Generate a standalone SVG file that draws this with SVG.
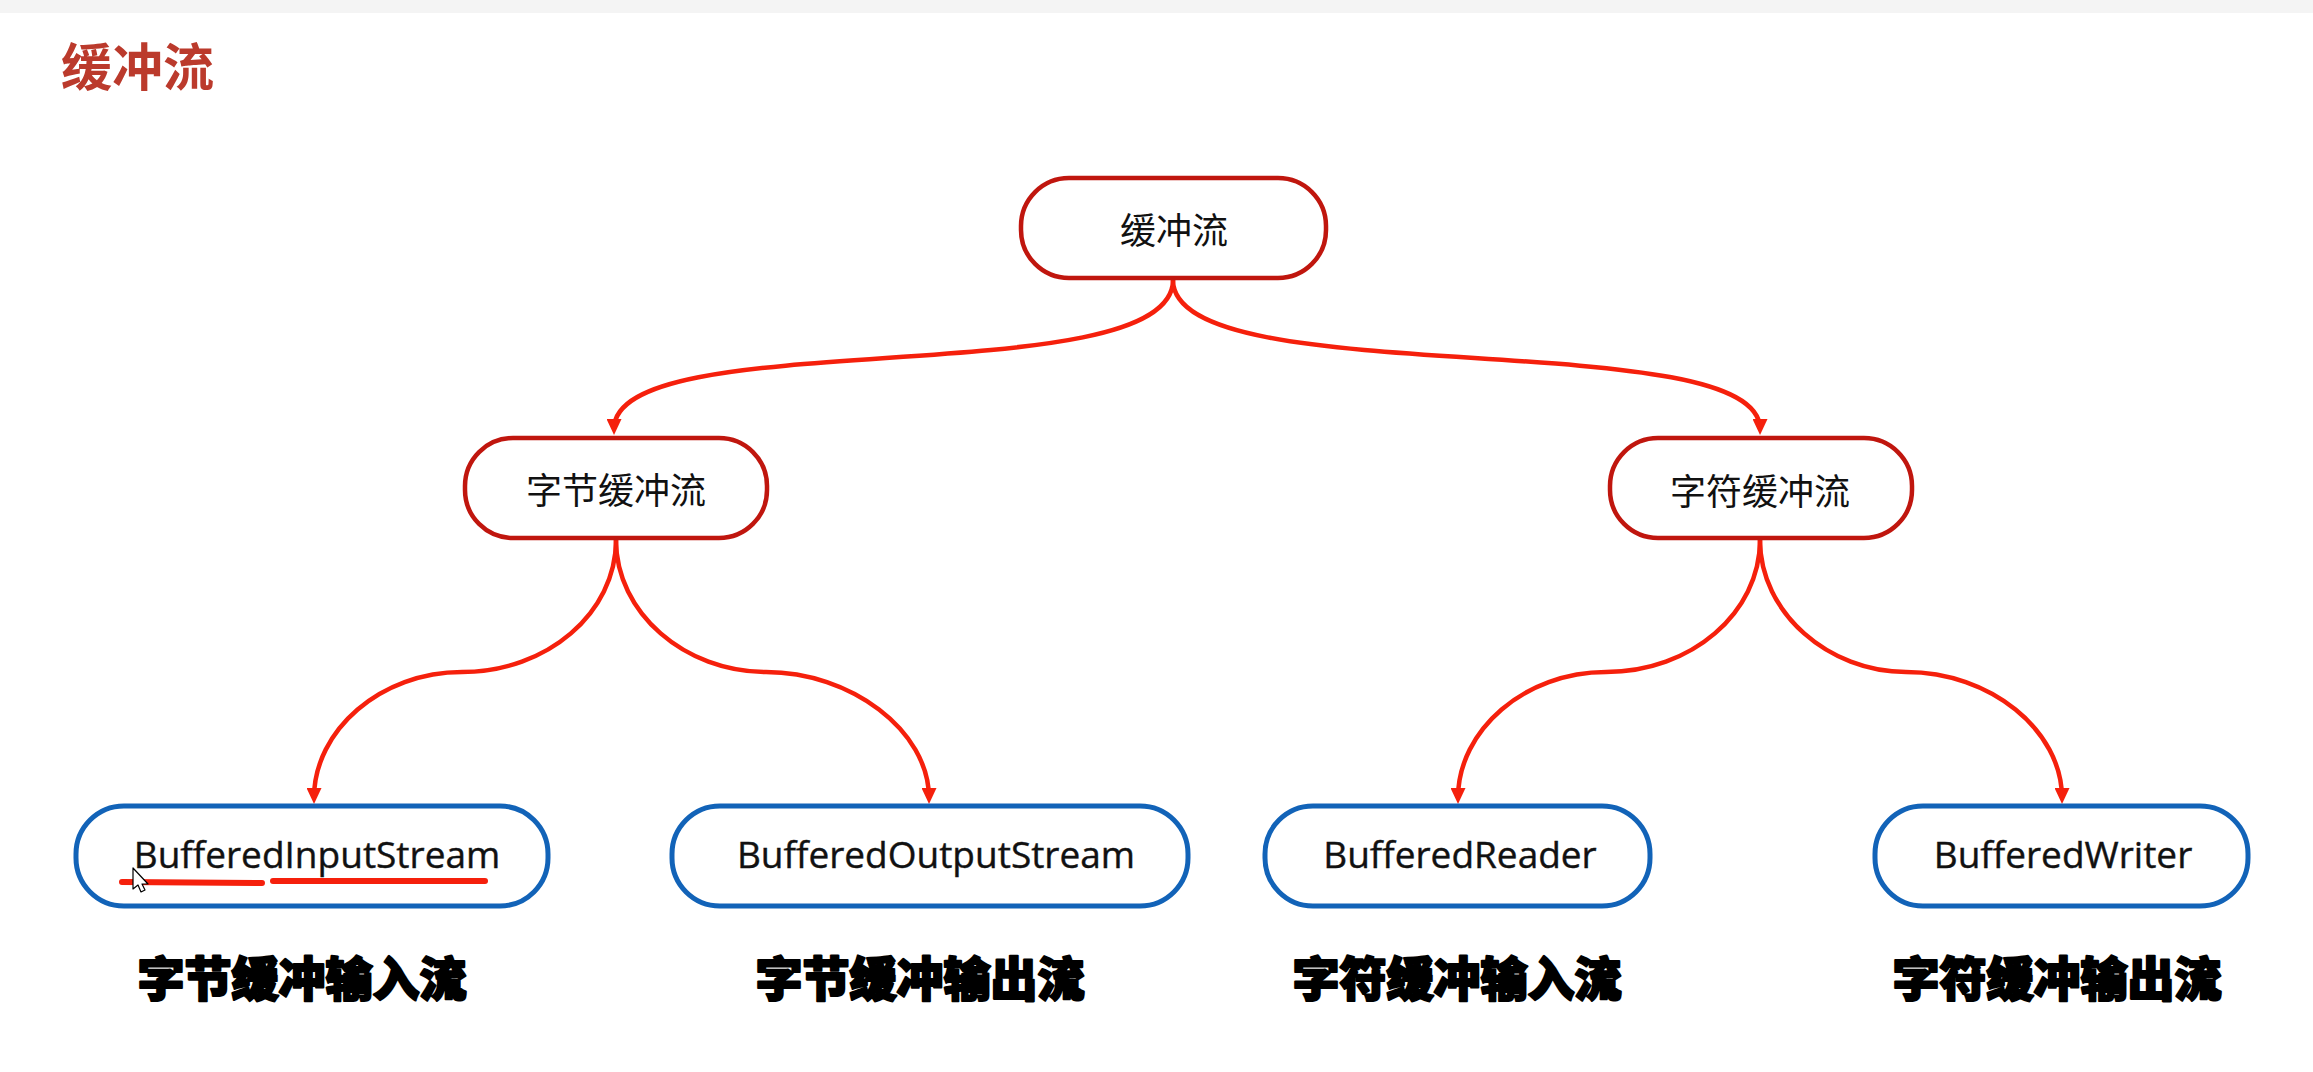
<svg xmlns="http://www.w3.org/2000/svg" width="2313" height="1072" viewBox="0 0 2313 1072">
<style>
.bg{fill:#ffffff}
.band{fill:#f4f4f4}
.title{font-family:"Noto Sans CJK SC","Noto Sans",sans-serif;font-size:51px;font-weight:700;fill:#bb3a2c}
.rnode{fill:#ffffff;stroke:#c0160e;stroke-width:4.5}
.bnode{fill:#ffffff;stroke:#1263b8;stroke-width:5}
.cn{font-family:"Noto Sans CJK SC","Noto Sans",sans-serif;font-size:36px;fill:#111111;text-anchor:middle;dominant-baseline:central}
.en{font-family:"Open Sans","Noto Sans",sans-serif;font-size:37px;fill:#111111;stroke:#111111;stroke-width:0.4;text-anchor:middle}
.lbl{font-family:"Noto Sans CJK SC","Noto Sans",sans-serif;font-size:47px;font-weight:900;fill:#000000;stroke:#000000;stroke-width:2.2;stroke-linejoin:round;text-anchor:middle;dominant-baseline:central}
.edge{fill:none;stroke:#f5200c;stroke-width:4.5;marker-end:url(#arr)}
.ul{stroke:#f5200c;stroke-width:6;stroke-linecap:round;fill:none}
</style>
<defs>
<marker id="arr" markerUnits="userSpaceOnUse" markerWidth="16" markerHeight="15" refX="10" refY="7.5" orient="auto">
<path d="M0,0 L16,7.5 L0,15 z" fill="#f5200c"/>
</marker>
</defs>
<rect class="bg" x="0" y="0" width="2313" height="1072"/>
<rect class="band" x="0" y="0" width="2313" height="13"/>
<text class="title" x="61" y="64" dominant-baseline="central">缓冲流</text>

<g id="connectors">
<path class="edge" d="M 1173 280 C 1173 395, 614 322, 614 429"/>
<path class="edge" d="M 1173 280 C 1173 395, 1760 322, 1760 429"/>
<path class="edge" d="M 616 540 C 616 613, 547 672, 462 672 C 381 672, 314 730, 314 798"/>
<path class="edge" d="M 616 540 C 616 613, 685 672, 766 672 C 850 672, 929 730, 929 798"/>
<path class="edge" d="M 1760 540 C 1760 613, 1691 672, 1606 672 C 1525 672, 1458 730, 1458 798"/>
<path class="edge" d="M 1760 540 C 1760 613, 1829 672, 1906 672 C 1990 672, 2062 730, 2062 798"/>
</g>

<g id="node-root">
<rect class="rnode" x="1021" y="178" width="305" height="100" rx="48"/>
<text class="cn" x="1174" y="228">缓冲流</text>
</g>
<g id="node-byte">
<rect class="rnode" x="465" y="438" width="302" height="100" rx="48"/>
<text class="cn" x="616" y="488">字节缓冲流</text>
</g>
<g id="node-char">
<rect class="rnode" x="1610" y="438" width="302" height="100" rx="48"/>
<text class="cn" x="1760" y="489">字符缓冲流</text>
</g>

<g id="node-bis">
<rect class="bnode" x="76" y="806" width="472" height="100" rx="48"/>
<text class="en" x="317" y="868">BufferedInputStream</text>
</g>
<g id="node-bos">
<rect class="bnode" x="672" y="806" width="516" height="100" rx="48"/>
<text class="en" x="936" y="868">BufferedOutputStream</text>
</g>
<g id="node-br">
<rect class="bnode" x="1265" y="806" width="385" height="100" rx="48"/>
<text class="en" x="1460" y="868">BufferedReader</text>
</g>
<g id="node-bw">
<rect class="bnode" x="1875" y="806" width="373" height="100" rx="48"/>
<text class="en" x="2063" y="868">BufferedWriter</text>
</g>

<g id="annotations">
<path class="ul" d="M 122 882 L 262 883"/>
<path class="ul" d="M 273 881 L 485 881"/>
<polygon points="133,868 133,889 138,885 141,892 145,890 142,884 148,884" fill="#ffffff" stroke="#000000" stroke-width="1.2" stroke-linejoin="round"/>
</g>

<g id="labels">
<text class="lbl" x="302" y="975">字节缓冲输入流</text>
<text class="lbl" x="920" y="975">字节缓冲输出流</text>
<text class="lbl" x="1457" y="975">字符缓冲输入流</text>
<text class="lbl" x="2057" y="975">字符缓冲输出流</text>
</g>
</svg>
